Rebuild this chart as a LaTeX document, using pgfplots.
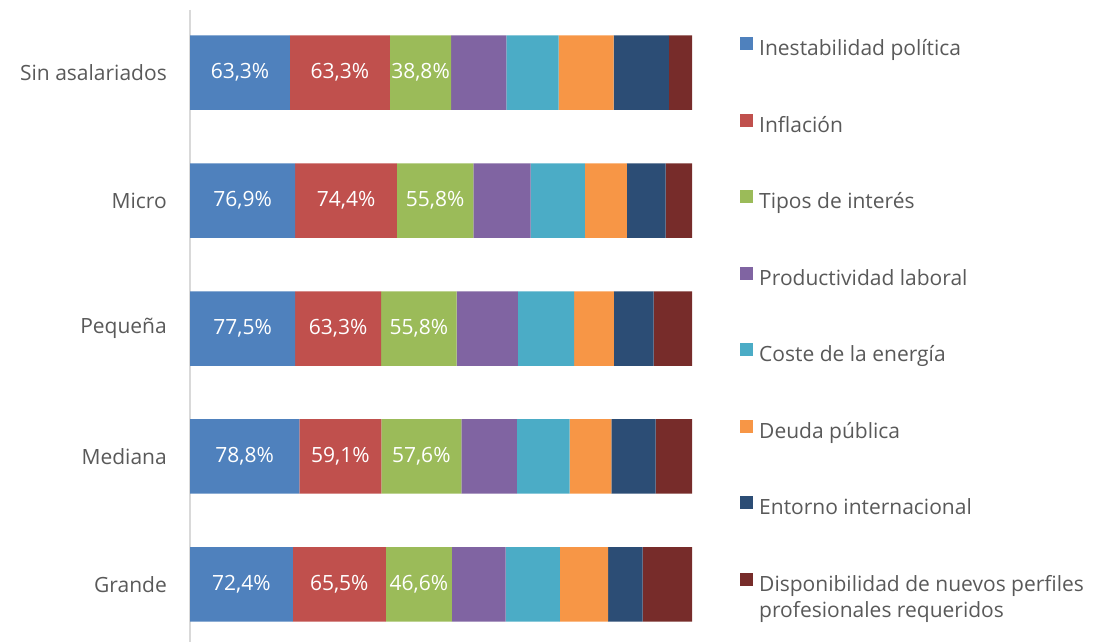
\documentclass[border=0pt]{standalone}
\usepackage{fontspec}
\setmainfont{Open Sans}
\usepackage{pgfplots}
\usepackage{pgfplotstable}
\pgfplotsset{compat=1.18}

\definecolor{c1}{HTML}{4F81BD}
\definecolor{c2}{HTML}{C0504D}
\definecolor{c3}{HTML}{9BBB59}
\definecolor{c4}{HTML}{8064A2}
\definecolor{c5}{HTML}{4BACC6}
\definecolor{c6}{HTML}{F79646}
\definecolor{c7}{HTML}{2C4D75}
\definecolor{c8}{HTML}{772C2A}
\definecolor{txt}{HTML}{595959}
\definecolor{axline}{HTML}{D9D9D9}

% rows: Sin asalariados, Micro, Pequena, Mediana, Grande
\pgfplotstableread{
idx  a     b     c     d     e     f     g     h
0    63.3  63.3  38.8  35.0  33.1  34.8  35.0  14.6
1    76.9  74.4  55.8  42.0  39.6  30.6  28.4  19.3
2    77.5  63.3  55.8  45.1  41.4  29.3  29.3  28.3
3    78.8  59.1  57.6  40.0  38.1  30.1  31.8  26.3
4    72.4  65.5  46.6  37.9  38.1  34.1  24.2  34.8
}\datatable
\pgfplotstablecreatecol[expr={\thisrow{a}+\thisrow{b}+\thisrow{c}+\thisrow{d}+\thisrow{e}+\thisrow{f}+\thisrow{g}+\thisrow{h}}]{sum}\datatable

\newcommand{\lfont}{\fontsize{21}{26}\selectfont}

\begin{document}
\begin{tikzpicture}
\begin{axis}[
    at={(190pt,0pt)}, anchor=south west,
    scale only axis,
    width=502pt, height=632pt,
    xbar stacked,
    bar width=74.5pt,
    xmin=0, xmax=100,
    ymin=-0.49, ymax=4.45,
    y dir=reverse,
    axis y line*=left,
    axis x line=none,
    y axis line style={draw=axline, line width=1.5pt},
    ytick={0,1,2,3,4},
    yticklabels={Sin asalariados,Micro,Pequeña,Mediana,Grande},
    major tick length=0pt,
    y tick label style={font=\lfont, text=txt, inner sep=0pt, xshift=-23pt},
    point meta=explicit,
    nodes near coords={\pgfmathprintnumber{\pgfplotspointmeta}\%},
    nodes near coords style={font=\lfont, text=white,
        /pgf/number format/.cd, fixed, fixed zerofill, precision=1, use comma, assume math mode=true},
    legend cell align=left,
    legend style={at={(axis description cs:1.0946,0.9573)}, anchor=north west,
        draw=none, fill=none, inner sep=0pt, column sep=3pt, row sep=53pt,
        font=\lfont, text=txt,
        nodes={inner xsep=3.5pt, inner ysep=0pt, text height=16pt, text depth=5pt}},
    legend image code/.code={\fill[#1] (0pt,0pt) rectangle (13pt,13pt);},
]
\addplot[fill=c1, draw=none] table[y=idx, x expr=\thisrow{a}/\thisrow{sum}*100, meta=a] \datatable;
\addplot[fill=c2, draw=none] table[y=idx, x expr=\thisrow{b}/\thisrow{sum}*100, meta=b] \datatable;
\addplot[fill=c3, draw=none] table[y=idx, x expr=\thisrow{c}/\thisrow{sum}*100, meta=c] \datatable;
\addplot[fill=c4, draw=none, nodes near coords={}] table[y=idx, x expr=\thisrow{d}/\thisrow{sum}*100, meta=d] \datatable;
\addplot[fill=c5, draw=none, nodes near coords={}] table[y=idx, x expr=\thisrow{e}/\thisrow{sum}*100, meta=e] \datatable;
\addplot[fill=c6, draw=none, nodes near coords={}] table[y=idx, x expr=\thisrow{f}/\thisrow{sum}*100, meta=f] \datatable;
\addplot[fill=c7, draw=none, nodes near coords={}] table[y=idx, x expr=\thisrow{g}/\thisrow{sum}*100, meta=g] \datatable;
\addplot[fill=c8, draw=none, nodes near coords={}] table[y=idx, x expr=\thisrow{h}/\thisrow{sum}*100, meta=h] \datatable;
\legend{Inestabilidad política, Inflación, Tipos de interés, Productividad laboral,
    Coste de la energía, Deuda pública, Entorno internacional,
    {\smash{\begin{tabular}[t]{@{}l@{}}Disponibilidad de nuevos perfiles\\profesionales requeridos\end{tabular}}}}
\end{axis}
\pgfresetboundingbox
\path[use as bounding box] (0,0) rectangle (1094pt,642pt);
\end{tikzpicture}
\end{document}
